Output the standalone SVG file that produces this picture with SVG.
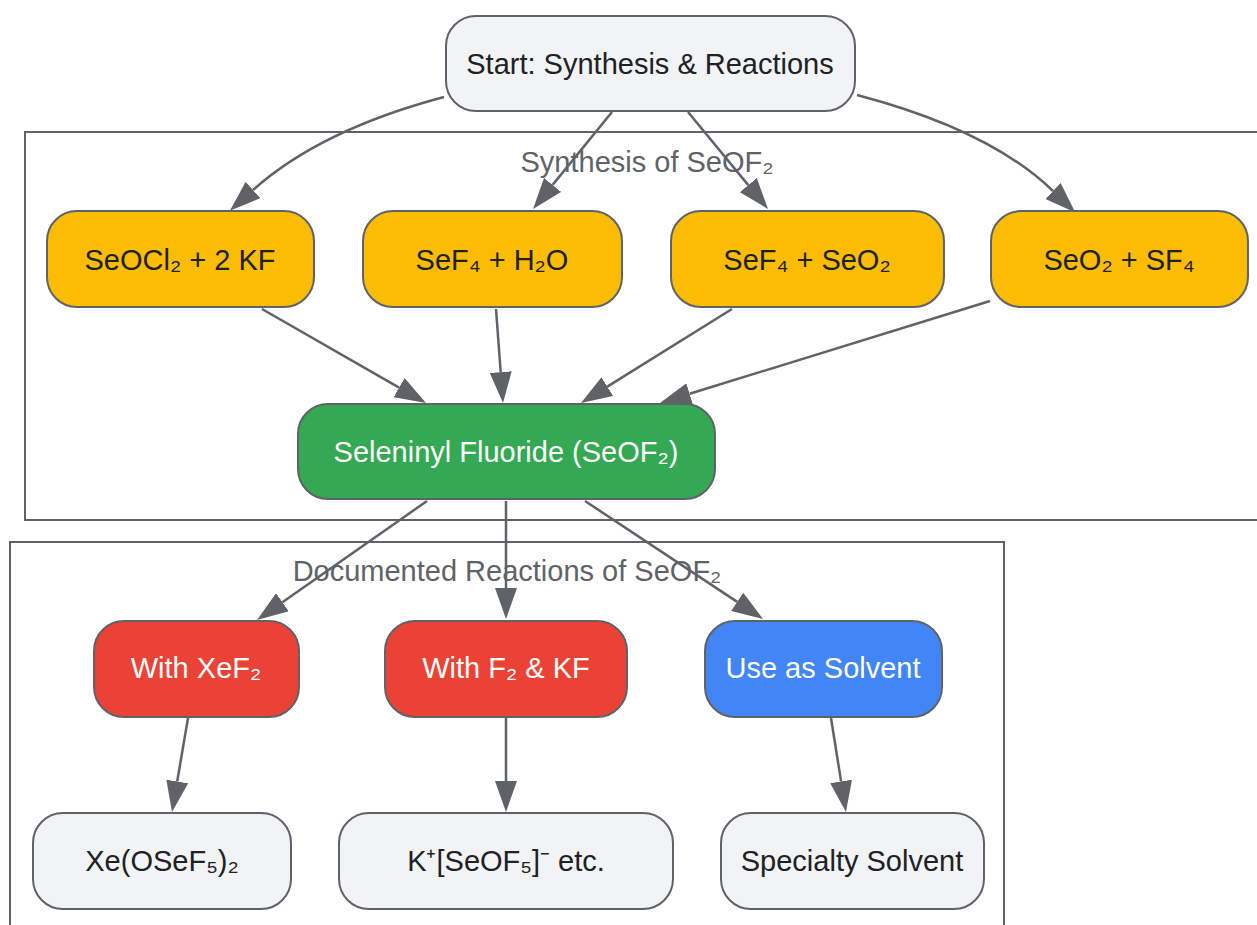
<svg xmlns="http://www.w3.org/2000/svg" width="1257" height="925" viewBox="0 0 1257 925">
<style>
  text { font-family: "Liberation Sans", Arial, sans-serif; font-size: 29px; text-anchor: middle; }
  .cluster rect { fill: none; stroke: #5f6368; stroke-width: 2; }
  .cluster text { fill: #5f6368; }
  .node rect { stroke: #5f6368; stroke-width: 2; }
  .light rect { fill: #f1f3f4; }
  .light text, .yellow text { fill: #202124; }
  .yellow rect { fill: #fbbc04; }
  .green rect { fill: #34a853; }
  .red rect { fill: #ea4335; }
  .blue rect { fill: #4285f4; }
  .green text, .red text, .blue text { fill: #ffffff; }
  #edges path { fill: none; stroke: #5f6368; stroke-width: 2.5; marker-end: url(#arrow); }
</style>
<defs>
  <marker id="arrow" markerUnits="userSpaceOnUse" viewBox="0 0 31 22" markerWidth="31" markerHeight="22" refX="0" refY="11" orient="auto">
    <path d="M0,0 L31,11 L0,22 z" fill="#5f6368"/>
  </marker>
</defs>
<rect x="0" y="0" width="1257" height="925" fill="#ffffff"/>

<g id="cluster-synthesis" class="cluster">
  <rect x="25" y="132" width="1250" height="388"/>
  <text x="647" y="172">Synthesis of SeOF₂</text>
</g>
<g id="cluster-reactions" class="cluster">
  <rect x="10" y="542" width="994" height="400"/>
  <text x="507" y="581">Documented Reactions of SeOF₂</text>
</g>

<g id="edges">
  <path d="M444,97 Q320,130 253,190"/>
  <path d="M612,112 L552.6,184.9"/>
  <path d="M688,112 L748.3,185.1"/>
  <path d="M857,95 Q990,130 1053,191"/>
  <path d="M262,309 L399.1,387.6"/>
  <path d="M496,309 L500.7,372.1"/>
  <path d="M732,309 L607.3,386.6"/>
  <path d="M990,301 L689.6,393.8"/>
  <path d="M427,501 L282.4,602.2"/>
  <path d="M506,501 L506,588"/>
  <path d="M585,501 L737.2,601.9"/>
  <path d="M188,718 L177.2,781.5"/>
  <path d="M506,718 L506,781"/>
  <path d="M831,718 L841.1,781.4"/>
</g>

<g id="start" class="node light">
  <rect x="446" y="16" width="409" height="95" rx="30"/>
  <text x="650" y="74">Start: Synthesis &amp; Reactions</text>
</g>

<g id="r1" class="node yellow">
  <rect x="47" y="211" width="267" height="96" rx="30"/>
  <text x="180" y="270">SeOCl₂ + 2 KF</text>
</g>
<g id="r2" class="node yellow">
  <rect x="363" y="211" width="259" height="96" rx="30"/>
  <text x="492" y="270">SeF₄ + H₂O</text>
</g>
<g id="r3" class="node yellow">
  <rect x="671" y="211" width="273" height="96" rx="30"/>
  <text x="807" y="270">SeF₄ + SeO₂</text>
</g>
<g id="r4" class="node yellow">
  <rect x="991" y="211" width="257" height="96" rx="30"/>
  <text x="1119" y="270">SeO₂ + SF₄</text>
</g>

<g id="seof2" class="node green">
  <rect x="298" y="404" width="417" height="95" rx="30"/>
  <text x="506" y="462">Seleninyl Fluoride (SeOF₂)</text>
</g>

<g id="xef2" class="node red">
  <rect x="94" y="621" width="205" height="96" rx="30"/>
  <text x="196" y="678">With XeF₂</text>
</g>
<g id="f2kf" class="node red">
  <rect x="385" y="621" width="242" height="96" rx="30"/>
  <text x="506" y="678">With F₂ &amp; KF</text>
</g>
<g id="solvent" class="node blue">
  <rect x="705" y="621" width="237" height="96" rx="30"/>
  <text x="823" y="678">Use as Solvent</text>
</g>

<g id="p1" class="node light">
  <rect x="33" y="813" width="258" height="96" rx="30"/>
  <text x="162" y="871">Xe(OSeF₅)₂</text>
</g>
<g id="p2" class="node light">
  <rect x="339" y="813" width="334" height="96" rx="30"/>
  <text x="506" y="871">K⁺[SeOF₅]⁻ etc.</text>
</g>
<g id="p3" class="node light">
  <rect x="721" y="813" width="263" height="96" rx="30"/>
  <text x="852" y="871">Specialty Solvent</text>
</g>
</svg>
